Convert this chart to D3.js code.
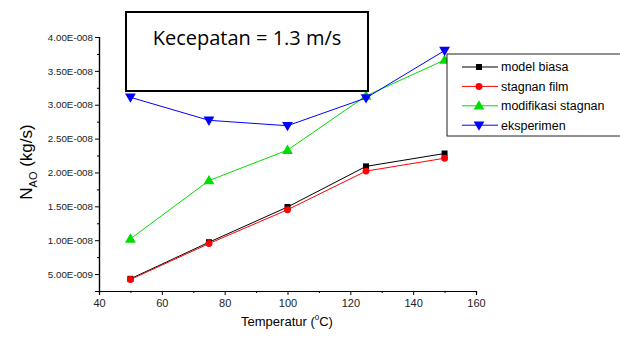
<!DOCTYPE html>
<html lang="en">
    <head>
        <title>Kecepatan 1.3 m/s</title>
        <script src="https://d3js.org/d3.v7.min.js"></script>
        <style>
            body { margin: 0; background: #fff; }
            text { font-family: Arial, "Liberation Sans", sans-serif; }
        </style>
    </head>
    <body>
    <div id="mainDiv"></div>

        <script type="text/javascript">
            // data
            const temperatures = [50, 75, 100, 125, 150]
            const modelBiasa = [4.3e-9, 9.7e-9, 1.49e-8, 2.09e-8, 2.28e-8]
            const stagnanFilm = [4.2e-9, 9.5e-9, 1.45e-8, 2.02e-8, 2.21e-8]
            const modifikasiStagnan = [1.02e-8, 1.88e-8, 2.33e-8, 3.13e-8, 3.66e-8]
            const eksperimen = [3.11e-8, 2.77e-8, 2.69e-8, 3.10e-8, 3.80e-8]
            const seriesNames = ['model biasa', 'stagnan film', 'modifikasi stagnan', 'eksperimen']
            const xTicks = [40, 60, 80, 100, 120, 140, 160]
            const yTicks = [5e-9, 1e-8, 1.5e-8, 2e-8, 2.5e-8, 3e-8, 3.5e-8, 4e-8]

            const width = 620
            const height = 340

            const series = [
                { name: seriesNames[0], values: modelBiasa, color: '#000000', symbol: d3.symbolSquare },
                { name: seriesNames[1], values: stagnanFilm, color: '#ff0000', symbol: d3.symbolCircle },
                { name: seriesNames[2], values: modifikasiStagnan, color: '#00dd00', symbol: 'up' },
                { name: seriesNames[3], values: eksperimen, color: '#0000ff', symbol: 'down' }
            ]

            const svg = d3.select('#mainDiv').append('svg')
                .attr('width', width)
                .attr('height', height)

            const xScale = d3.scaleLinear().domain([40, 160]).range([99, 476])
            const yScale = d3.scaleLinear().domain([2.5e-9, 4e-8]).range([291, 37])

            // marker path helper
            const triUp = (s) => `M0,${-s * 0.62}L${s * 0.6},${s * 0.42}L${-s * 0.6},${s * 0.42}Z`
            const triDown = (s) => `M0,${s * 0.62}L${s * 0.6},${-s * 0.42}L${-s * 0.6},${-s * 0.42}Z`
            function markerPath(sym) {
                if (sym === 'up') return triUp(9)
                if (sym === 'down') return triDown(9)
                if (sym === d3.symbolSquare) return d3.symbol().type(sym).size(36)()
                return d3.symbol().type(sym).size(38)()
            }

            // axes
            const xAxis = d3.axisBottom(xScale).tickValues(xTicks).tickSize(4).tickFormat(d3.format('d'))
            const xMinor = d3.axisBottom(xScale).tickValues(d3.range(50, 160, 20)).tickSize(2).tickFormat('')
            const yAxis = d3.axisLeft(yScale).tickValues(yTicks).tickSize(4)
                .tickFormat(d => {
                    const e = Math.floor(Math.log10(d) + 1e-9)
                    return (d / Math.pow(10, e)).toFixed(2) + 'E-00' + (-e)
                })
            const yMinor = d3.axisLeft(yScale).tickValues(d3.range(7.5e-9, 4e-8, 5e-9)).tickSize(2).tickFormat('')

            const gx = svg.append('g').attr('transform', 'translate(0,291)').call(xAxis)
            svg.append('g').attr('transform', 'translate(0,291)').call(xMinor)
            const gy = svg.append('g').attr('transform', 'translate(99,0)').call(yAxis)
            svg.append('g').attr('transform', 'translate(99,0)').call(yMinor)

            svg.selectAll('.domain').attr('stroke', '#000').attr('stroke-width', 1.2)
            svg.selectAll('.tick line').attr('stroke', '#000')
            gx.selectAll('text').attr('font-size', 11).attr('fill', '#222').attr('dy', '0.85em')
            gy.selectAll('text').attr('font-size', 9.8).attr('fill', '#222').attr('x', -6)

            // axis titles
            const xt = svg.append('text')
                .attr('x', 287).attr('y', 326)
                .attr('text-anchor', 'middle')
                .attr('font-size', 13)
            xt.append('tspan').text('Temperatur (')
            xt.append('tspan').attr('font-size', 8).attr('dy', -6).text('0')
            xt.append('tspan').attr('dy', 6).text('C)')

            const yt = svg.append('text')
                .attr('transform', 'translate(32,162) rotate(-90)')
                .attr('text-anchor', 'middle')
                .attr('font-size', 17)
            yt.append('tspan').text('N')
            yt.append('tspan').attr('font-size', 11).attr('dy', 5).text('AO')
            yt.append('tspan').attr('dy', -5).text(' (kg/s)')

            // lines and markers
            const line = d3.line()
                .x((d, i) => xScale(temperatures[i]))
                .y(d => yScale(d))

            series.forEach(s => {
                svg.append('path')
                    .datum(s.values)
                    .attr('d', line)
                    .attr('fill', 'none')
                    .attr('stroke', s.color)
                    .attr('stroke-width', 1)
                svg.selectAll(null)
                    .data(s.values)
                    .enter()
                    .append('path')
                    .attr('d', markerPath(s.symbol))
                    .attr('transform', (d, i) => `translate(${xScale(temperatures[i])},${yScale(d)})`)
                    .attr('fill', s.color)
            })

            // title box
            svg.append('rect')
                .attr('x', 126).attr('y', 12)
                .attr('width', 242).attr('height', 79)
                .attr('fill', '#fff')
                .attr('stroke', '#000')
                .attr('stroke-width', 2)
            svg.append('text')
                .attr('x', 247).attr('y', 45)
                .attr('text-anchor', 'middle')
                .attr('font-size', 20)
                .style('font-family', '"Open Sans", sans-serif')
                .text('Kecepatan = 1.3 m/s')

            // legend
            const legend = svg.append('g')
            legend.append('rect')
                .attr('x', 447).attr('y', 54)
                .attr('width', 180).attr('height', 82)
                .attr('fill', '#fff')
                .attr('stroke', '#222')
                .attr('stroke-width', 1)
            series.forEach((s, i) => {
                const ly = 67 + i * 19.4
                legend.append('line')
                    .attr('x1', 462).attr('x2', 498)
                    .attr('y1', ly).attr('y2', ly)
                    .attr('stroke', s.color)
                legend.append('path')
                    .attr('d', markerPath(s.symbol))
                    .attr('transform', `translate(479,${ly})`)
                    .attr('fill', s.color)
                legend.append('text')
                    .attr('x', 501).attr('y', ly)
                    .attr('dy', '0.35em')
                    .attr('font-size', 12.5)
                    .text(s.name)
            })
        </script>
    </body>
</html>
